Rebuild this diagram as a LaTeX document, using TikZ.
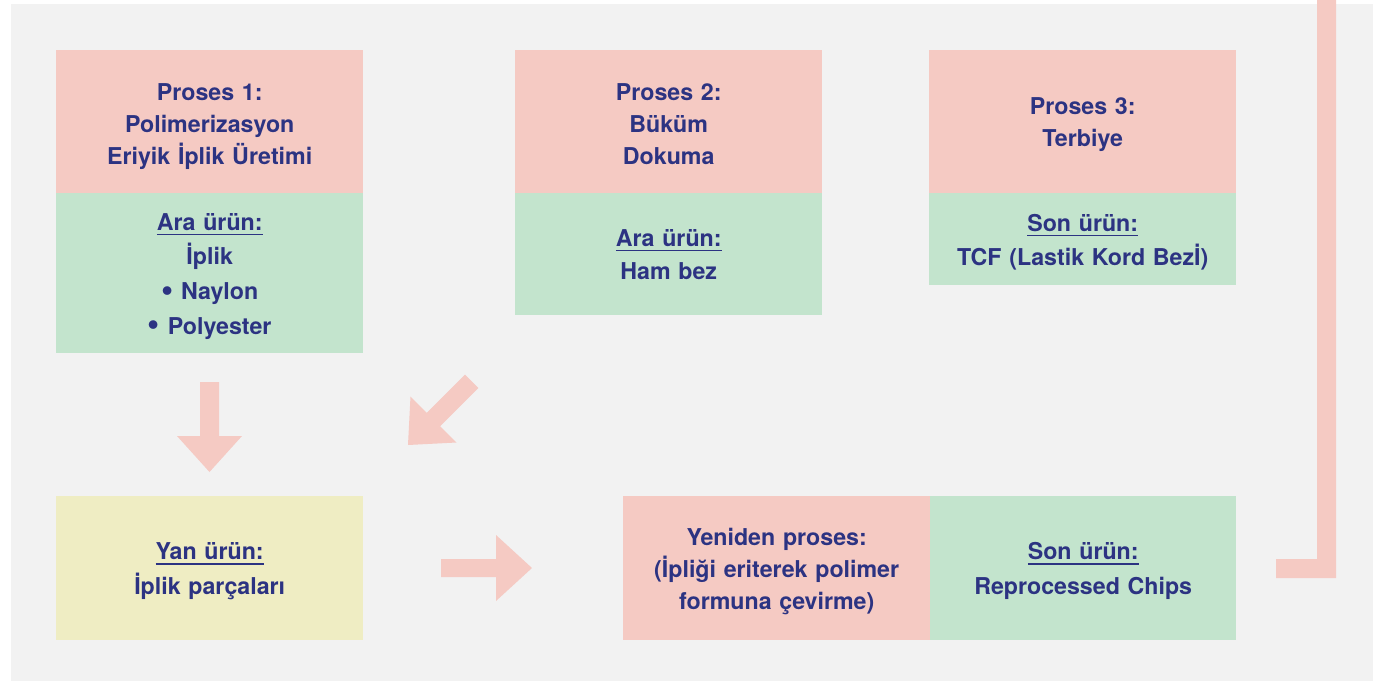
\documentclass[tikz,border=0pt]{standalone}
\usepackage{fontspec}
\setmainfont{TeX Gyre Heros}
\definecolor{bgc}{HTML}{F2F2F2}
\definecolor{pinkc}{HTML}{F5CAC3}
\definecolor{greenc}{HTML}{C3E4CD}
\definecolor{yellowc}{HTML}{EFEDC3}
\definecolor{navyc}{HTML}{2C3382}
\newcommand\myul[1]{\setbox0\hbox{#1}\rlap{\rule[-5pt]{\wd0}{1.5pt}}\box0}
\newcommand\mybul{\raisebox{-1.8pt}{\scalebox{1.5}{•}}}
\newcommand\mydepth{\rule[-5pt]{0pt}{5pt}}
\tikzset{
  boxbase/.style={anchor=north west, inner sep=0pt, minimum width=307pt, text width=300pt, align=center, text=navyc, font=\bfseries\fontsize{23.2}{32}\selectfont},
  lowered/.style={execute at end node={\par\kern-6pt}},
  morelowered/.style={execute at end node={\par\kern-10pt}},
  pinkbox/.style={boxbase, lowered, fill=pinkc},
  greenbox/.style={boxbase, lowered, fill=greenc, font=\bfseries\fontsize{23.2}{34.6}\selectfont},
  yellowbox/.style={boxbase, lowered, fill=yellowc, font=\bfseries\fontsize{23.2}{34.6}\selectfont},
  blockarrow/.style={fill=pinkc, draw=none}
}
\begin{document}
\begin{tikzpicture}[x=1pt,y=-1pt]
\useasboundingbox (0,0) rectangle (1393,681);
\fill[bgc] (11,4) rectangle (1373,681);
% top row
\node[boxbase, morelowered, fill=pinkc, minimum height=143pt] (p1) at (56,50) {Proses 1:\\Polimerizasyon\\Eriyik İplik Üretimi};
\node[greenbox, minimum height=160pt] (g1) at (56,193) {\myul{Ara ürün:}\\İplik\\\mybul\ Naylon\\\mybul\ Polyester};
\node[boxbase, morelowered, fill=pinkc, minimum height=143pt] (p2) at (515,50) {Proses 2:\\Büküm\\Dokuma\mydepth};
\node[boxbase, fill=greenc, font=\bfseries\fontsize{23.2}{33}\selectfont, minimum height=122pt] (g2) at (515,193) {\myul{Ara ürün:}\\Ham bez};
\node[pinkbox, minimum height=143pt] (p3) at (929,50) {Proses 3:\\Terbiye};
\node[greenbox, minimum height=92pt] (g3) at (929,193) {\myul{Son ürün:}\\TCF (Lastik Kord Bezİ)};
% bottom row
\node[yellowbox, minimum height=144pt] (y1) at (56,496) {\myul{Yan ürün:}\\İplik parçaları};
\node[pinkbox, minimum height=144pt] (r1) at (623,496) {Yeniden proses:\\(İpliği eriterek polimer\\formuna çevirme)};
\node[greenbox, minimum height=144pt, minimum width=306pt] (s1) at (930,496) {\myul{Son ürün:}\\Reprocessed Chips};
% down arrow
\fill[blockarrow] (200,382) -- (219,382) -- (219,436) -- (242,436) -- (209.5,472) -- (177,436) -- (200,436) -- cycle;
% diagonal arrow
\fill[blockarrow] (465.0,374.6) -- (478.4,388.0) -- (440.2,426.2) -- (456.5,442.5) -- (408,445) -- (410.5,396.5) -- (426.8,412.8) -- cycle;
% right arrow
\fill[blockarrow] (441,559) -- (496,559) -- (496,535) -- (532,568) -- (496,601) -- (496,577) -- (441,577) -- cycle;
% return connector
\fill[blockarrow] (1317,0) -- (1336,0) -- (1336,578) -- (1276,578) -- (1276,559) -- (1317,559) -- cycle;
\end{tikzpicture}
\end{document}
